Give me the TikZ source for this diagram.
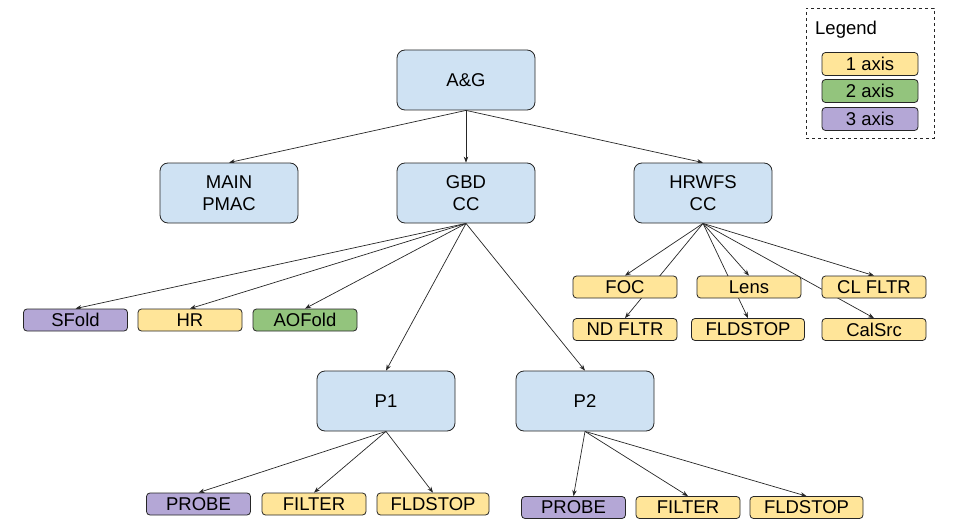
\documentclass[tikz,border=0pt]{standalone}
\usepackage{fontspec}
\setmainfont{Liberation Sans}
\usepackage{tikz}
\usetikzlibrary{arrows.meta,backgrounds}
\definecolor{agblue}{HTML}{CFE2F3}
\definecolor{agyellow}{HTML}{FFE599}
\definecolor{aggreen}{HTML}{93C47D}
\definecolor{agpurple}{HTML}{B4A7D6}
\definecolor{agink}{HTML}{262626}

\begin{document}
\begin{tikzpicture}[
  x=1pt,y=-1pt,
  every node/.style={font=\fontsize{18.5}{22}\selectfont,align=center,text=black},
  ctrl/.style={draw=agink,line width=0.8pt,rounded corners=8pt,fill=agblue,minimum width=138pt,minimum height=60pt,inner sep=0pt},
  axisbox/.style={draw=agink,line width=0.8pt,rounded corners=3.5pt,minimum width=104pt,minimum height=22pt,inner sep=0pt},
  oneax/.style={axisbox,fill=agyellow},
  twoax/.style={axisbox,fill=aggreen},
  threeax/.style={axisbox,fill=agpurple},
  arrow/.style={-{Stealth[length=6pt,width=4.5pt]},line width=0.7pt,color=agink}
]
\useasboundingbox (0,0) rectangle (961,532);

% controllers
\node[ctrl] (ag) at (466,80) {A\&G};
\node[ctrl] (pmac) at (229,193) {MAIN\\PMAC};
\node[ctrl] (gbd) at (466,193) {GBD\\CC};
\node[ctrl] (hrwfs) at (703,193) {HRWFS\\CC};
\node[ctrl] (pone) at (386,401) {P1};
\node[ctrl] (ptwo) at (585,401) {P2};

% GBD stages
\node[threeax] (sfold) at (75.5,320) {SFold};
\node[oneax] (hr) at (190,320) {HR};
\node[twoax] (aofold) at (305,320) {AOFold};

% HRWFS stages
\node[oneax] (foc) at (625,287) {FOC};
\node[oneax] (lens) at (749,287) {Lens};
\node[oneax] (clfltr) at (874,287) {CL FLTR};
\node[oneax] (ndfltr) at (625,329.5) {ND FLTR};
\node[oneax,minimum width=113pt] (hrfld) at (748,329.5) {FLDSTOP};
\node[oneax] (calsrc) at (874,329.5) {CalSrc};

% P1 stages
\node[threeax] (probea) at (198.5,504) {PROBE};
\node[oneax] (filtera) at (314,504) {FILTER};
\node[oneax,minimum width=112pt] (fldsa) at (433,504) {FLDSTOP};

% P2 stages
\node[threeax] (probeb) at (573.5,507.5) {PROBE};
\node[oneax] (filterb) at (688,507.5) {FILTER};
\node[oneax,minimum width=113pt] (fldsb) at (806.5,507.5) {FLDSTOP};

% legend
\node[draw=agink,dashed,line width=0.7pt,minimum width=128pt,minimum height=130pt,inner sep=0pt] (legendbox) at (870,73) {};
\node[anchor=west,inner sep=0pt] (legendtitle) at (815,30) {Legend};
\node[oneax,minimum width=96pt,minimum height=23pt] (keyone) at (870,64) {1 axis};
\node[twoax,minimum width=96pt,minimum height=23pt] (keytwo) at (870,91) {2 axis};
\node[threeax,minimum width=96pt,minimum height=23pt] (keythree) at (870,119) {3 axis};

\begin{scope}[on background layer]
\foreach \child in {pmac,gbd,hrwfs}
  \draw[arrow] (ag.south) -- (\child.north);
\foreach \child in {sfold,hr,aofold,pone,ptwo}
  \draw[arrow] (gbd.south) -- (\child.north);
\foreach \child in {foc,lens,clfltr,ndfltr,hrfld,calsrc}
  \draw[arrow] (hrwfs.south) -- (\child.north);
\foreach \child in {probea,filtera,fldsa}
  \draw[arrow] (pone.south) -- (\child.north);
\foreach \child in {probeb,filterb,fldsb}
  \draw[arrow] (ptwo.south) -- (\child.north);
\end{scope}
\end{tikzpicture}
\end{document}
